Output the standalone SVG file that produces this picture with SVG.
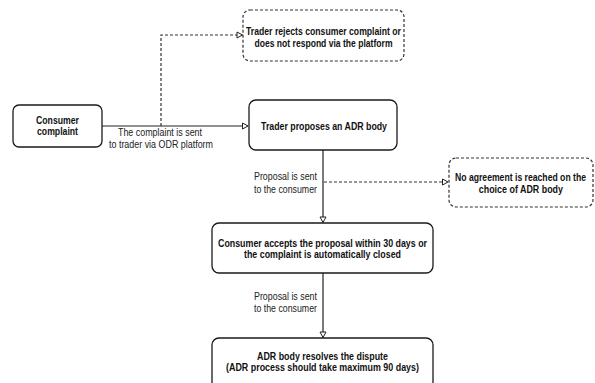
<svg xmlns="http://www.w3.org/2000/svg" width="595" height="383" viewBox="0 0 595 383">
<style>
.box{fill:#fff;stroke:#1a1a1a;stroke-width:1.3}
.dbox{fill:#fff;stroke:#333;stroke-width:1.2;stroke-dasharray:3 2}
.line{fill:none;stroke:#222;stroke-width:1.2}
.dline{fill:none;stroke:#333;stroke-width:1.2;stroke-dasharray:3 2}
.t{font-family:"Liberation Sans",Arial,sans-serif;font-size:11px;font-weight:bold;fill:#111;text-anchor:middle}
.l{font-family:"Liberation Sans",Arial,sans-serif;font-size:11px;fill:#222;text-anchor:middle}
</style>
<defs>
<marker id="arr" markerWidth="8" markerHeight="8" refX="6.5" refY="4" orient="auto" markerUnits="userSpaceOnUse">
<path d="M1,1 L6.5,4 L1,7 Z" fill="#fff" stroke="#222" stroke-width="1"/>
</marker>
</defs>
<rect width="595" height="383" fill="#fff"/>
<g id="connectors">
<path class="line" d="M102,126 H248" marker-end="url(#arr)"/>
<path class="dline" d="M161,126 V35 H242.5" marker-end="url(#arr)"/>
<path class="line" d="M323,150 V222.5" marker-end="url(#arr)"/>
<path class="dline" d="M324,182 H448" marker-end="url(#arr)"/>
<path class="line" d="M323,273 V337.5" marker-end="url(#arr)"/>
<text class="l" x="160" y="136" textLength="84" lengthAdjust="spacingAndGlyphs">The complaint is sent</text>
<text class="l" x="161" y="148" textLength="104" lengthAdjust="spacingAndGlyphs">to trader via ODR platform</text>
<text class="l" x="285.5" y="180" textLength="63" lengthAdjust="spacingAndGlyphs">Proposal is sent</text>
<text class="l" x="285.5" y="193" textLength="63" lengthAdjust="spacingAndGlyphs">to the consumer</text>
<text class="l" x="285.5" y="300" textLength="63" lengthAdjust="spacingAndGlyphs">Proposal is sent</text>
<text class="l" x="285.5" y="312" textLength="63" lengthAdjust="spacingAndGlyphs">to the consumer</text>
</g>
<g id="consumer-complaint">
<rect class="box" x="13" y="105" width="89" height="42" rx="6"/>
<text class="t" x="57.5" y="124" textLength="43" lengthAdjust="spacingAndGlyphs">Consumer</text>
<text class="t" x="57.5" y="135" textLength="41" lengthAdjust="spacingAndGlyphs">complaint</text>
</g>
<g id="trader-rejects">
<rect class="dbox" x="243" y="10" width="161" height="51" rx="7"/>
<text class="t" x="323.5" y="35" textLength="155" lengthAdjust="spacingAndGlyphs">Trader rejects consumer complaint or</text>
<text class="t" x="323.5" y="47" textLength="138" lengthAdjust="spacingAndGlyphs">does not respond via the platform</text>
</g>
<g id="trader-proposes">
<rect class="box" x="249" y="100" width="148" height="50" rx="7"/>
<text class="t" x="324" y="130" textLength="126" lengthAdjust="spacingAndGlyphs">Trader proposes an ADR body</text>
</g>
<g id="no-agreement">
<rect class="dbox" x="449" y="158" width="144" height="49" rx="7"/>
<g transform="translate(520.5,0) scale(0.78,1)">
<text class="t" x="0" y="181" textLength="168" lengthAdjust="spacingAndGlyphs">No agreement is reached on the</text>
<text class="t" x="0.5" y="193" textLength="108" lengthAdjust="spacingAndGlyphs">choice of ADR body</text>
</g>
</g>
<g id="consumer-accepts">
<rect class="box" x="212" y="223" width="221" height="50" rx="7"/>
<text class="t" x="322.5" y="247" textLength="209" lengthAdjust="spacingAndGlyphs">Consumer accepts the proposal within 30 days or</text>
<text class="t" x="322.5" y="258" textLength="157" lengthAdjust="spacingAndGlyphs">the complaint is automatically closed</text>
</g>
<g id="adr-resolves">
<rect class="box" x="212" y="338" width="221" height="60" rx="7"/>
<text class="t" x="322.5" y="360" textLength="131" lengthAdjust="spacingAndGlyphs">ADR body resolves the dispute</text>
<text class="t" x="322.5" y="371" textLength="193" lengthAdjust="spacingAndGlyphs">(ADR process should take maximum 90 days)</text>
</g>
</svg>
